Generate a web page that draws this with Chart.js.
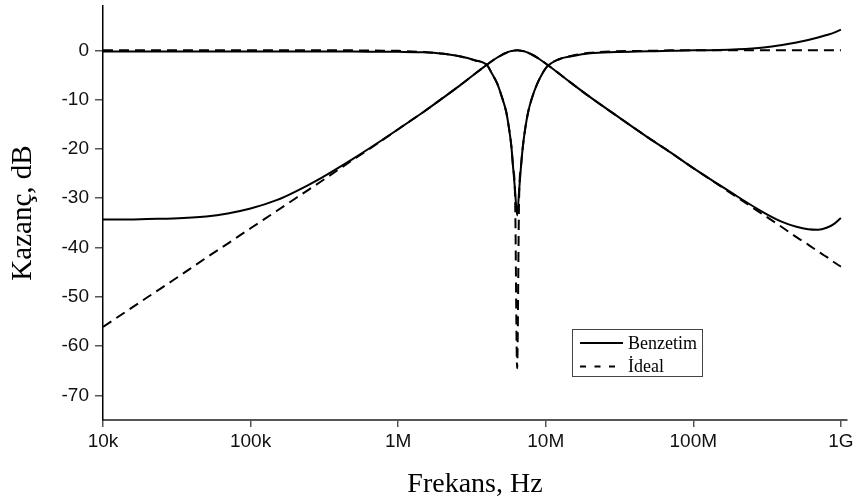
<!DOCTYPE html>
<html><head><meta charset="utf-8">
<script src="https://cdn.jsdelivr.net/npm/chart.js@4.4.1/dist/chart.umd.min.js"></script>
<style>html,body{margin:0;padding:0;background:#fff;}canvas{display:block;}</style>
</head><body>
<canvas id="c" width="859" height="504"></canvas>
<script>
// Frequency points (Hz)
const freqHz = [1e4,1.5e4,2e4,3e4,5e4,7e4,1e5,1.5e5,2e5,3e5,5e5,7e5,1e6,1.5e6,2e6,2.6e6,3.3e6,4e6,4.3e6,4.7e6,5.05e6,5.4e6,5.65e6,5.85e6,6e6,6.2e6,6.4e6,6.6e6,6.8e6,7e6,7.25e6,7.6e6,8.1e6,8.75e6,9.45e6,1.02e7,1.23e7,1.5e7,2e7,3e7,5e7,7e7,1e8,1.5e8,2e8,3e8,4e8,5e8,6e8,7e8,8e8,9e8,1e9];

// Band-pass, simulated (Benzetim)
const bandPassSim = [-34.3,-34.3,-34.2,-34.1,-33.7,-33.1,-32.1,-30.4,-28.7,-25.9,-21.9,-19.1,-16.0,-12.4,-9.7,-7.2,-4.8,-2.9,-2.2,-1.45,-0.9,-0.5,-0.26,-0.14,-0.07,-0.02,0,-0.01,-0.06,-0.14,-0.26,-0.49,-0.89,-1.48,-2.15,-2.86,-4.7,-6.7,-9.5,-13.2,-17.8,-20.7,-23.9,-27.3,-29.7,-32.9,-34.8,-35.8,-36.3,-36.4,-36.0,-35.2,-34.0];
// Band-pass, ideal (İdeal)
const bandPassIdeal = [-56.1,-52.6,-50.1,-46.6,-42.1,-39.2,-36.1,-32.6,-30.1,-26.6,-22.1,-19.2,-16.0,-12.4,-9.7,-7.2,-4.8,-2.9,-2.2,-1.45,-0.9,-0.5,-0.26,-0.14,-0.07,-0.02,0,-0.01,-0.06,-0.14,-0.26,-0.49,-0.89,-1.48,-2.15,-2.86,-4.7,-6.7,-9.5,-13.2,-17.8,-20.7,-23.9,-27.4,-29.9,-33.4,-35.9,-37.9,-39.4,-40.8,-41.9,-43.0,-43.9];
// Notch, simulated (Benzetim)
const notchSim = [-0.25,-0.25,-0.25,-0.25,-0.25,-0.25,-0.25,-0.25,-0.25,-0.25,-0.25,-0.28,-0.3,-0.4,-0.7,-1.2,-2.0,-3.0,-4.6,-6.8,-9.5,-12.5,-16,-19.5,-23.5,-28.5,-33.5,-28.5,-23.5,-19.5,-16,-12.5,-9.5,-6.8,-4.8,-3.3,-1.8,-1.2,-0.6,-0.35,-0.2,-0.1,0,0.05,0.2,0.6,1.1,1.6,2.1,2.6,3.1,3.6,4.2];
// Notch, ideal (İdeal)
const notchIdeal = [0,0,0,0,0,0,0,0,0,0,0,-0.05,-0.1,-0.35,-0.65,-1.2,-2.0,-3.0,-4.6,-6.8,-9.5,-12.5,-16,-19.5,-23.5,-30,-64.5,-30,-23.5,-19.5,-16,-12.5,-9.5,-6.8,-4.8,-3.3,-1.8,-1.1,-0.5,-0.2,-0.1,0,0,0,0,0,0,0,0,0,0,0,0];

const xTickValues = [1e4,1e5,1e6,1e7,1e8,1e9];
const xTickLabels = ['10k','100k','1M','10M','100M','1G'];
const yTickValues = [-70,-60,-50,-40,-30,-20,-10,0];

const SERIES_SOLID = 'Benzetim';
const SERIES_DASHED = 'İdeal';

function pts(vals){ return freqHz.map((f,i)=>({x:f,y:vals[i]})); }

const solidStyle = {borderColor:'#000', borderWidth:2, pointRadius:0, cubicInterpolationMode:'monotone', fill:false};
const dashedStyle = {borderColor:'#000', borderWidth:2, borderDash:[10,6], pointRadius:0, cubicInterpolationMode:'monotone', fill:false};

const boxLegend = {
  id:'boxLegend',
  afterDatasetsDraw(chart){
    const ctx = chart.ctx;
    const seen = [];
    chart.data.datasets.forEach(ds=>{ if(!seen.find(s=>s.label===ds.label)) seen.push(ds); });
    const bx=572.5, by=329.5, bw=130, bh=47;
    ctx.save();
    ctx.strokeStyle='#444'; ctx.lineWidth=1; ctx.setLineDash([]);
    ctx.strokeRect(bx,by,bw,bh);
    ctx.font='18px "Liberation Serif"';
    ctx.fillStyle='#000';
    ctx.textBaseline='middle';
    seen.forEach((ds,i)=>{
      const y = 343 + i*23.5;
      ctx.beginPath();
      ctx.lineWidth=2;
      ctx.strokeStyle=ds.borderColor;
      ctx.setLineDash(ds.borderDash ? [6,8.5] : []);
      ctx.moveTo(580,y); ctx.lineTo(ds.borderDash?617:623,y); ctx.stroke();
      ctx.setLineDash([]);
      ctx.fillText(ds.label, 628, y+1);
    });
    ctx.restore();
  }
};

new Chart(document.getElementById('c').getContext('2d'), {
  type:'line',
  data:{ datasets:[
    Object.assign({label:SERIES_SOLID, data:pts(bandPassSim)}, solidStyle),
    Object.assign({label:SERIES_SOLID, data:pts(notchSim)}, solidStyle),
    Object.assign({label:SERIES_DASHED, data:pts(bandPassIdeal)}, dashedStyle),
    Object.assign({label:SERIES_DASHED, data:pts(notchIdeal)}, dashedStyle)
  ]},
  options:{
    responsive:false, animation:false, devicePixelRatio:1,
    layout:{padding:{top:6,right:12,bottom:0,left:0}},
    plugins:{legend:{display:false}, tooltip:{enabled:false}},
    scales:{
      x:{
        type:'logarithmic', min:1e4, max:1.1e9, position:'bottom',
        afterBuildTicks:s=>{ s.ticks = xTickValues.map(v=>({value:v})); },
        ticks:{ callback:v=>xTickLabels[xTickValues.indexOf(v)], font:{family:'Liberation Sans',size:19}, color:'#111', maxRotation:0, autoSkip:false, padding:3 },
        grid:{ drawOnChartArea:false, drawTicks:true, tickLength:7, color:'#555', lineWidth:1.5 },
        border:{ display:true, color:'#555', width:2 },
        title:{ display:true, text:'Frekans, Hz', font:{family:'Liberation Serif',size:28}, color:'#000', padding:{top:0,bottom:3} },
        afterFit:s=>{ s.height = 84; s.paddingLeft = 0; s.paddingRight = 0; }
      },
      y:{
        type:'linear', min:-75, max:9,
        afterBuildTicks:s=>{ s.ticks = yTickValues.map(v=>({value:v})); },
        ticks:{ callback:v=>String(v), font:{family:'Liberation Sans',size:19}, color:'#111', padding:6 },
        grid:{ drawOnChartArea:false, drawTicks:true, tickLength:8, color:'#555', lineWidth:1.5 },
        border:{ display:true, color:'#000', width:1.5 },
        title:{ display:true, text:'Kazanç, dB', font:{family:'Liberation Serif',size:29}, color:'#000', padding:{top:6,bottom:0} },
        afterFit:s=>{ s.width = 103; s.paddingTop = 0; s.paddingBottom = 0; }
      }
    }
  },
  plugins:[boxLegend]
});
</script>
</body></html>
